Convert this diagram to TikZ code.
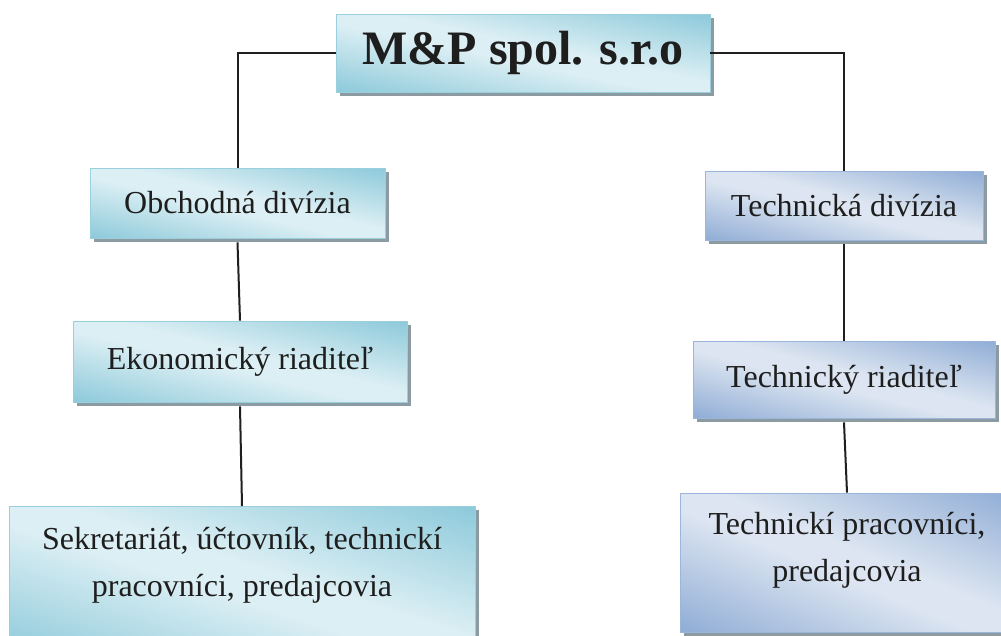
\documentclass[tikz,border=0pt]{standalone}
\usepackage{fontspec}
\setmainfont{Liberation Serif}
\usetikzlibrary{shadows}
\definecolor{aquadark}{HTML}{8CC9DA}
\definecolor{aqualight}{HTML}{DCEFF4}
\definecolor{aquaedge}{HTML}{9AD0DE}
\definecolor{bluedark}{HTML}{8FACD5}
\definecolor{bluelight}{HTML}{DCE5F1}
\definecolor{blueedge}{HTML}{9AB6DA}
\definecolor{shadowgray}{HTML}{8C9AA2}
\definecolor{txt}{HTML}{1E1E1E}
\pgfdeclareverticalshading{aquash}{100bp}{color(0bp)=(aquadark); color(25bp)=(aquadark); color(47bp)=(aqualight); color(53bp)=(aqualight); color(75bp)=(aquadark); color(100bp)=(aquadark)}
\pgfdeclareverticalshading{bluesh}{100bp}{color(0bp)=(bluedark); color(25bp)=(bluedark); color(47bp)=(bluelight); color(53bp)=(bluelight); color(75bp)=(bluedark); color(100bp)=(bluedark)}
\tikzset{
  diagshade/.style={path picture={
    \pgfpointdiff{\pgfpointanchor{path picture bounding box}{south west}}{\pgfpointanchor{path picture bounding box}{north east}}%
    \pgfgetlastxy{\bw}{\bh}%
    \pgfmathsetmacro\ang{-atan(\bh/\bw)}%
    \pgfmathsetmacro\dd{veclen(\bw,\bh)}%
    \pgfmathsetmacro\HH{\bw/\dd*\bh+0.5}%
    \pgfmathsetmacro\LL{\dd/2+2}%
    \shade[shading=#1, transform canvas={rotate around={\ang:(path picture bounding box.center)}}]
      ([shift={(-\LL pt,-\HH pt)}]path picture bounding box.center) rectangle
      ([shift={(\LL pt,\HH pt)}]path picture bounding box.center);
  }},
  base/.style={rectangle, inner sep=0pt, line width=0.8pt, text=txt,
    drop shadow={shadow xshift=4pt, shadow yshift=-4pt, fill=shadowgray, opacity=1, path picture={}}},
  aquabox/.style={base, draw=aquaedge, fill=aqualight, diagshade=aquash},
  bluebox/.style={base, draw=blueedge, fill=bluelight, diagshade=bluesh},
  lbl/.style={text=txt, font=\fontsize{32}{47}\selectfont, align=center, inner sep=0pt},
  conn/.style={line width=2pt, draw=black!88}
}
\begin{document}
\begin{tikzpicture}[x=1pt,y=-1pt]
\clip (0,0) rectangle (1001,635);
\useasboundingbox (0,0) rectangle (1001,635);
\fill[white] (0,0) rectangle (1001,635);

\node[aquabox, minimum width=374pt, minimum height=78pt, font=\fontsize{48}{56}\selectfont\bfseries] (top) at (523,53) {M\&P spol. s.r.o};

\node[aquabox, minimum width=295pt, minimum height=70pt, font=\fontsize{32}{47}\selectfont] (ob) at (237.5,203) {Obchodná divízia};
\node[bluebox, minimum width=278pt, minimum height=69pt, font=\fontsize{32}{47}\selectfont] (td) at (844,205.5) {Technická divízia};

\node[aquabox, minimum width=334pt, minimum height=81pt, font=\fontsize{32}{47}\selectfont] (ek) at (240,361.5) {Ekonomický riaditeľ};
\node[bluebox, minimum width=302pt, minimum height=77pt, font=\fontsize{32}{47}\selectfont] (tr) at (844,379.5) {Technický riaditeľ};

\node[aquabox, minimum width=466pt, minimum height=150pt, anchor=north] (sk) at (242,506) {};
\node[lbl] (skt) at (242,565) {Sekretariát, účtovník, technickí\\pracovníci, predajcovia};

\node[bluebox, minimum width=334pt, minimum height=139pt] (tk) at (847,562.5) {};
\node[lbl] (tkt) at (847,550) {Technickí pracovníci,\\predajcovia};

\draw[conn] (top.west) -| (ob.north);
\draw[conn] (top.east) -| (td.north);
\draw[conn] ([yshift=-4pt]ob.south) -- (ek.north);
\draw[conn] ([yshift=-4pt]ek.south) -- (sk.north);
\draw[conn] ([yshift=-4pt]td.south) -- (tr.north);
\draw[conn] ([yshift=-4pt]tr.south) -- (tk.north);
\end{tikzpicture}
\end{document}
